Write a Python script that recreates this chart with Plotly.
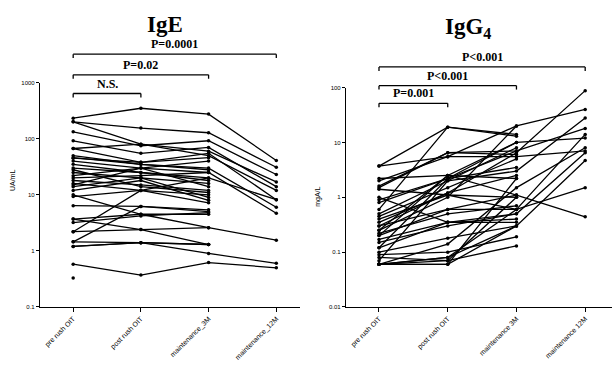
import plotly.graph_objects as go

categories = ["pre rush OIT", "post rush OIT", "maintenance_3M", "maintenance_12M"]
categories_r = ["pre rush OIT", "post rush OIT", "maintenance 3M", "maintenance 12M"]

# IgE (UA/mL), one entry per patient
ige_pre = [233, 200, 200, 133, 92, 67, 67, 46, 40, 35, 3.7, 0.58, 1.2,
           30, 25, 22, 18, 16, 14, 12, 9.3, 6.4, 3.2, 2.2, 1.45, 1.2, 2.2, 3.7,
           45, 50, 28, 20, 15, 0.33, 10, 1.45]
ige_post = [350, 155, 80, 75, 55, 80, 38, 35, 30, 25, 4.5, 0.37, 1.4,
            25, 20, 30, 15, 12, 20, 18, 12, 6.2, 4.2, 12, 6.2, 1.4, 2.4, 2.4,
            38, 35, 14, 22, 30, None, 4.5, 1.4]
ige_3m = [275, 128, 60, 92, 70, 50, 55, 30, 25, 20, 2.6, 0.62, 0.9,
          18, 16, 14, 12, 10, 9, 8, 7.2, 5.4, 4.8, 20, 5, 1.3, 2.6, 1.3,
          46, 28, 11, 25, 40, None, 4.5, 1.3]
ige_12m = [41, 31, 17, 23, 14, 12, 8.2, 6, 4.7, 8.2, 1.55, 0.5, 0.6,
           None, None, None, None, None, None, None, None, None, None, None, None, None, None, None,
           None, None, None, None, None, None, None, None]

# IgG4 (mgA/L), one entry per patient
igg4_pre = [0.3, 3.7, 0.5, 1.5, 0.2, 0.9, 0.06, 2.0, 0.12, 0.06, 0.4, 0.25,
            3.7, 0.6, 2.2, 1.6, 1.4, 0.8, 0.45, 0.35, 0.3, 0.22, 0.17, 0.15, 0.1, 0.09,
            0.08, 0.06, 0.06, 0.06, 0.06, 0.07, 0.2, 1.0, 0.25, 0.12]
igg4_post = [1.2, 5.5, 2.0, 6.5, 0.6, 2.2, 0.14, 5.5, 0.35, 0.08, 1.1, 2.5,
             19, 19, 2.5, 6.5, 1.1, 2.2, 1.5, 1.2, 0.6, 0.5, 0.35, 0.3, 0.18, 0.1,
             0.07, 0.06, 0.07, 0.08, 0.06, 2.0, 2.5, 0.35, 1.0, 2.2]
igg4_3m = [6.5, 20, 3.0, 7.0, 0.6, 10, 1.5, 5.5, 0.5, 0.3, 0.6, 1.1,
           14, 13, 2.2, 6.0, 1.0, 3.5, 5.0, 2.5, 1.1, 0.7, 0.4, 0.5, 0.3, 0.19,
           0.13, 0.3, 1.0, 0.6, 2.2, 8.0, 10, 0.35, 20, 7.0]
igg4_12m = [88, 40, 28, 18, 14, 12, 8, 7, 6.5, 4.7, 1.5, 0.44,
            None, None, None, None, None, None, None, None, None, None, None, None, None, None,
            None, None, None, None, None, None, None, None, None, None]

W, H = 612, 369
def py(pix):
    return 1 - pix / H

fig = go.Figure()

def add_patients(cats, series, xa, ya):
    n = len(series[0])
    for i in range(n):
        xs, ys = [], []
        for c, s in zip(cats, series):
            if s[i] is not None:
                xs.append(c)
                ys.append(s[i])
        fig.add_trace(go.Scatter(
            x=xs, y=ys, xaxis=xa, yaxis=ya, mode="lines+markers",
            line=dict(color="black", width=1.3),
            marker=dict(color="black", size=3.5),
            showlegend=False, hoverinfo="skip"))

add_patients(categories, [ige_pre, ige_post, ige_3m, ige_12m], "x", "y")
add_patients(categories_r, [igg4_pre, igg4_post, igg4_3m, igg4_12m], "x2", "y2")

tickfont = dict(family="Liberation Sans, Arial", size=6, color="black")
xcommon = dict(type="category", showline=True, linecolor="black", linewidth=1.2,
               ticks="outside", ticklen=4, tickcolor="black", tickwidth=1,
               tickangle=-45, tickfont=dict(family="Liberation Sans, Arial", size=7, color="black"),
               showgrid=False, zeroline=False)
ycommon = dict(type="log", showline=True, linecolor="black", linewidth=1.2,
               ticks="outside", ticklen=3, tickcolor="black", tickwidth=1,
               tickfont=tickfont, showgrid=False, zeroline=False)

fig.update_layout(
    width=W, height=H, margin=dict(l=0, r=0, t=0, b=0),
    plot_bgcolor="white", paper_bgcolor="white",
    xaxis=dict(xcommon, domain=[40 / W, 300 / W], range=[-0.49, 3.35],
               categoryorder="array", categoryarray=categories, anchor="y"),
    yaxis=dict(ycommon, domain=[py(309), py(81)], range=[-1, 3.0],
               tickvals=[0.1, 1, 10, 100, 1000], ticktext=["0.1", "1", "10", "100", "1000"],
               anchor="x"),
    xaxis2=dict(xcommon, domain=[346 / W, 612 / W], range=[-0.48, 3.39],
                categoryorder="array", categoryarray=categories_r, anchor="y2"),
    yaxis2=dict(ycommon, domain=[py(309), py(86)], range=[-2, 2],
                tickvals=[0.01, 0.1, 1, 10, 100], ticktext=["0.01", "0.1", "1", "10", "100"],
                anchor="x2"),
)

serif = "Liberation Serif, Times New Roman, serif"
annotations = [
    dict(text="<b>IgE</b>", x=165 / W, y=py(22), xref="paper", yref="paper",
         xanchor="center", yanchor="middle",
         showarrow=False, font=dict(family=serif, size=23, color="black")),
    dict(text="<b>IgG<sub>4</sub></b>", x=468 / W, y=py(25), xref="paper", yref="paper",
         xanchor="center", yanchor="middle",
         showarrow=False, font=dict(family=serif, size=23, color="black")),
    dict(text="UA/mL", x=12 / W, y=py(180), xref="paper", yref="paper", textangle=-90,
         xanchor="center", yanchor="middle",
         showarrow=False, font=dict(family="Liberation Sans, Arial", size=7, color="black")),
    dict(text="mgA/L", x=318 / W, y=py(197), xref="paper", yref="paper", textangle=-90,
         xanchor="center", yanchor="middle",
         showarrow=False, font=dict(family="Liberation Sans, Arial", size=7, color="black")),
]

# significance brackets: (axis, x0 index, x1 index, bracket y px, label)
brackets = [
    ("x", 0, 1, 92, "N.S."),
    ("x", 0, 2, 73, "P=0.02"),
    ("x", 0, 3, 52, "P=0.0001"),
    ("x2", 0, 1, 102, "P=0.001"),
    ("x2", 0, 2, 84, "P<0.001"),
    ("x2", 0, 3, 65, "P<0.001"),
]
shapes = []
for xa, a, b, ypix, lab in brackets:
    line = dict(color="black", width=1.3)
    shapes.append(dict(type="line", xref=xa, yref="paper", x0=a, x1=b, y0=py(ypix), y1=py(ypix), line=line))
    shapes.append(dict(type="line", xref=xa, yref="paper", x0=a, x1=a, y0=py(ypix), y1=py(ypix + 4), line=line))
    shapes.append(dict(type="line", xref=xa, yref="paper", x0=b, x1=b, y0=py(ypix), y1=py(ypix + 4), line=line))
    annotations.append(dict(text="<b>" + lab + "</b>", xref=xa, yref="paper",
                            x=(a + b) / 2 if lab != "N.S." else 0.5,
                            y=py(ypix - 1), xanchor="center", yanchor="bottom", showarrow=False,
                            font=dict(family=serif, size=12, color="black")))

fig.update_layout(annotations=annotations, shapes=shapes)
fig.write_html("out.html")
